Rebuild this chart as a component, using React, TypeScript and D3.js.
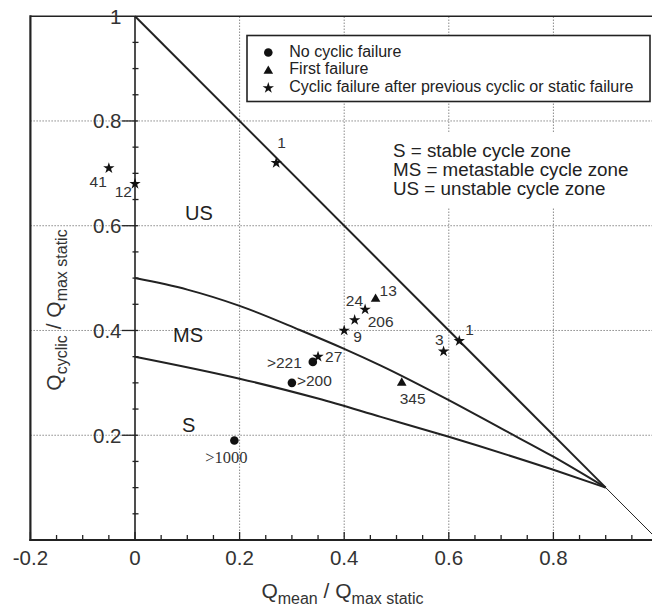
import React from "react";
import * as d3 from "d3";

// ---------- data ----------
const xTickLabels = [-0.2, 0, 0.2, 0.4, 0.6, 0.8];
const yTickLabels = [0.2, 0.4, 0.6, 0.8, 1];
const gridValues = [0.2, 0.4, 0.6, 0.8];

// failure envelope Qcyc = 1 - Qmean (thick to convergence point, thin beyond)
const envelopeX = [0, 0.9];
const envelopeY = [1, 0.1];
const envelopeTailX = [0.9, 1];
const envelopeTailY = [0.1, 0];

// MS / US boundary
const usBoundaryX = [0, 0.1, 0.2, 0.315, 0.4, 0.47, 0.6, 0.7, 0.8, 0.9];
const usBoundaryY = [0.5, 0.478, 0.447, 0.401, 0.365, 0.333, 0.267, 0.213, 0.159, 0.1];

// S / MS boundary
const msBoundaryX = [0, 0.2, 0.35, 0.47, 0.6, 0.8, 0.9];
const msBoundaryY = [0.35, 0.308, 0.27, 0.235, 0.197, 0.134, 0.1];

// No cyclic failure (circles)
const noFailX = [0.34, 0.3, 0.19];
const noFailY = [0.34, 0.3, 0.19];
const noFailLabels = [">221", ">200", ">1000"];

// First failure (triangles)
const firstFailX = [0.46, 0.51];
const firstFailY = [0.46, 0.3];
const firstFailLabels = ["13", "345"];

// Cyclic failure after previous failure (stars)
const cyclicFailX = [-0.05, 0, 0.27, 0.44, 0.42, 0.4, 0.35, 0.59, 0.62];
const cyclicFailY = [0.71, 0.68, 0.72, 0.44, 0.42, 0.4, 0.35, 0.36, 0.38];
const cyclicFailLabels = ["41", "12", "1", "24", "206", "9", "27", "3", "1"];

const legendLabels = [
  "No cyclic failure",
  "First failure",
  "Cyclic failure after previous cyclic or static failure",
];
const zoneNotes = [
  "S = stable cycle zone",
  "MS = metastable cycle zone",
  "US = unstable cycle zone",
];

// ---------- layout (label placement offsets, px) ----------
const noFailOffsets: [number, number, string, string][] = [
  [-11, 6, "end", "sans"],
  [5, 3, "start", "sans"],
  [-8, 23, "middle", "serif"],
];
const firstFailOffsets: [number, number, string][] = [
  [4, -3, "start"],
  [-2, 21, "start"],
];
const cyclicFailOffsets: [number, number, string][] = [
  [-2, 19, "end"],
  [-3, 13, "end"],
  [1, -15, "start"],
  [-2, -4, "end"],
  [13, 7, "start"],
  [9, 11.5, "start"],
  [7, 5, "start"],
  [0, -6, "end"],
  [6, -6, "start"],
];

const W = 652;
const H = 608;
const FONT = "'Liberation Sans', Arial, Helvetica, sans-serif";
const SERIF = "'Liberation Serif', 'Times New Roman', serif";
const INK = "#222";
const TXT = "#333";

export default function App() {
  const x = d3.scaleLinear().domain([-0.2, 1]).range([30.4, 658]);
  const y = d3.scaleLinear().domain([0, 1]).range([540, 16.2]);

  const line = d3
    .line<[number, number]>()
    .x((d) => x(d[0]))
    .y((d) => y(d[1]));
  const curve = d3
    .line<[number, number]>()
    .x((d) => x(d[0]))
    .y((d) => y(d[1]))
    .curve(d3.curveMonotoneX);

  const zip = (a: number[], b: number[]) => a.map((v, i) => [v, b[i]] as [number, number]);

  const circlePath = d3.symbol().type(d3.symbolCircle).size(58)()!;
  const trianglePath = d3.symbol().type(d3.symbolTriangle).size(40)()!;
  const starPath = d3.symbol().type(d3.symbolStar).size(40)()!;

  const minorX = d3.range(-0.2, 1.0001, 0.05).map((v) => +v.toFixed(2));
  const minorY = d3.range(0.05, 1.0, 0.05).map((v) => +v.toFixed(2));
  const isMajor = (v: number) => Math.abs(Math.round(v / 0.2) * 0.2 - v) < 1e-6;

  const x0 = x(-0.2);
  const x1 = x(1);
  const yb = y(0);
  const yt = y(1);

  return (
    <svg
      width={W}
      height={H}
      viewBox={`0 0 ${W} ${H}`}
      style={{ position: "absolute", left: 0, top: 0, background: "#fff" }}
      fontFamily={FONT}
    >
      <rect x={0} y={0} width={W} height={H} fill="#fff" />

      {/* grid */}
      <g stroke="#8a8a8a" strokeWidth={1} strokeDasharray="1.5,1.5">
        {gridValues.map((v) => (
          <line key={"gx" + v} x1={x(v)} x2={x(v)} y1={yb} y2={yt} />
        ))}
        {gridValues.map((v) => (
          <line key={"gy" + v} x1={x0} x2={x1} y1={y(v)} y2={y(v)} />
        ))}
      </g>

      {/* white panel behind zone notes */}
      <rect x={388} y={132} width={250} height={75} fill="#fff" />

      {/* frame */}
      <g fill="none" stroke={INK}>
        <line x1={x0} x2={x0} y1={yt - 1} y2={yb + 1} strokeWidth={2.2} />
        <line x1={x0} x2={x1} y1={yt} y2={yt} strokeWidth={1.6} />
        <line x1={x0 - 1} x2={x1} y1={yb} y2={yb} strokeWidth={2.2} />
        {/* y axis at x = 0 */}
        <line x1={x(0)} x2={x(0)} y1={yt} y2={yb} strokeWidth={1.6} />
      </g>

      {/* x ticks */}
      <g stroke={INK} strokeWidth={1.3}>
        {minorX.map((v) => (
          <line key={"tx" + v} x1={x(v)} x2={x(v)} y1={yb} y2={yb - (isMajor(v) ? 8 : 5)} />
        ))}
      </g>
      {/* y ticks */}
      <g stroke={INK} strokeWidth={1.3}>
        {minorY.map((v) =>
          isMajor(v) ? (
            <line key={"ty" + v} x1={x(0) - 13} x2={x(0) + 3} y1={y(v)} y2={y(v)} />
          ) : (
            <line key={"ty" + v} x1={x(0) - 2.5} x2={x(0) + 3.5} y1={y(v)} y2={y(v)} />
          )
        )}
      </g>

      {/* tick labels */}
      <g fill={TXT} fontSize={20.5}>
        {xTickLabels.map((v) => (
          <text key={"lx" + v} x={x(v)} y={565} textAnchor="middle">
            {String(v)}
          </text>
        ))}
        {yTickLabels.map((v) => (
          <text key={"ly" + v} x={x(0) - 13.5} y={y(v) + 7.5} textAnchor="end">
            {String(v)}
          </text>
        ))}
      </g>

      {/* axis titles */}
      <text x={342.5} y={598} textAnchor="middle" fill={TXT} fontSize={21}>
        <tspan>Q</tspan>
        <tspan fontSize={16} dy={6}>mean</tspan>
        <tspan dy={-6}>{" / Q"}</tspan>
        <tspan fontSize={16} dy={6}>max static</tspan>
      </text>
      <text
        transform="translate(60.5,310) rotate(-90)"
        textAnchor="middle"
        fill={TXT}
        fontSize={21}
      >
        <tspan>Q</tspan>
        <tspan fontSize={16} dy={6}>cyclic</tspan>
        <tspan dy={-6}>{" / Q"}</tspan>
        <tspan fontSize={16} dy={6}>max static</tspan>
      </text>

      {/* boundary lines */}
      <g fill="none" stroke={INK} strokeLinejoin="round">
        <path d={line(zip(envelopeX, envelopeY))!} strokeWidth={2} />
        <path d={line(zip(envelopeTailX, envelopeTailY))!} strokeWidth={1} />
        <path d={curve(zip(usBoundaryX, usBoundaryY))!} strokeWidth={2} />
        <path d={curve(zip(msBoundaryX, msBoundaryY))!} strokeWidth={2} />
      </g>

      {/* zone labels */}
      <g fill={INK} fontSize={20}>
        <text x={185} y={220}>US</text>
        <text x={173} y={342}>MS</text>
        <text x={182} y={432}>S</text>
      </g>

      {/* zone notes */}
      <g fill={INK} fontSize={18.8}>
        {zoneNotes.map((t, i) => (
          <text key={t} x={393} y={156.7 + i * 19.2}>
            {t}
          </text>
        ))}
      </g>

      {/* points */}
      <g fill="#111">
        {noFailX.map((v, i) => (
          <path key={"c" + i} d={circlePath} transform={`translate(${x(v)},${y(noFailY[i])})`} />
        ))}
        {firstFailX.map((v, i) => (
          <path key={"t" + i} d={trianglePath} transform={`translate(${x(v)},${y(firstFailY[i])})`} />
        ))}
        {cyclicFailX.map((v, i) => (
          <path key={"s" + i} d={starPath} transform={`translate(${x(v)},${y(cyclicFailY[i])})`} />
        ))}
      </g>

      {/* point labels */}
      <g fill={TXT} fontSize={15.5}>
        {noFailLabels.map((t, i) => {
          const [dx, dy, anchor, fam] = noFailOffsets[i];
          return (
            <text
              key={"cl" + i}
              x={x(noFailX[i]) + dx}
              y={y(noFailY[i]) + dy}
              textAnchor={anchor as any}
              fontFamily={fam === "serif" ? SERIF : FONT}
              fontSize={fam === "serif" ? 16.5 : 15.5}
            >
              {t}
            </text>
          );
        })}
        {firstFailLabels.map((t, i) => {
          const [dx, dy, anchor] = firstFailOffsets[i];
          return (
            <text key={"tl" + i} x={x(firstFailX[i]) + dx} y={y(firstFailY[i]) + dy} textAnchor={anchor as any}>
              {t}
            </text>
          );
        })}
        {cyclicFailLabels.map((t, i) => {
          const [dx, dy, anchor] = cyclicFailOffsets[i];
          return (
            <text key={"sl" + i} x={x(cyclicFailX[i]) + dx} y={y(cyclicFailY[i]) + dy} textAnchor={anchor as any}>
              {t}
            </text>
          );
        })}
      </g>

      {/* legend */}
      <g>
        <rect x={247} y={35.5} width={403} height={66} fill="#fff" stroke={INK} strokeWidth={1.6} />
        <g fill="#111">
          <path d={circlePath} transform="translate(268.3,52.5)" />
          <path d={trianglePath} transform="translate(268.3,71)" />
          <path d={starPath} transform="translate(268.3,88)" />
        </g>
        <g fill={INK} fontSize={16}>
          {legendLabels.map((t, i) => (
            <text key={t} x={289.3} y={56.8 + i * 17.5}>
              {t}
            </text>
          ))}
        </g>
      </g>
    </svg>
  );
}
